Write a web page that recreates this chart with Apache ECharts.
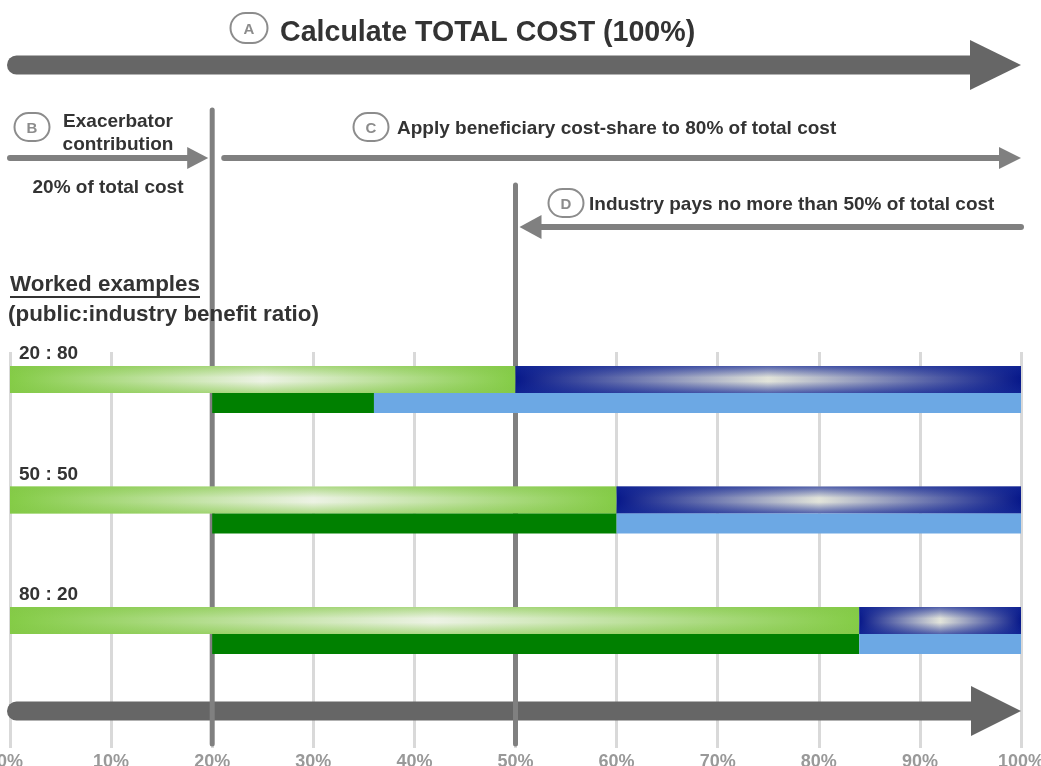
<!DOCTYPE html>
<html><head><meta charset="utf-8">
<script src="https://cdn.jsdelivr.net/npm/echarts@6/dist/echarts.min.js"></script>
<style>html,body{margin:0;padding:0;background:#fff}#c{width:1041px;height:766px}</style>
</head><body><div id="c"></div>
<script>
// ---- data ----
const ratioLabels = ['20 : 80', '50 : 50', '80 : 20'];          // public : industry benefit ratio
const exacerbatorShare = 20;                                   // % of total cost (B)
const industryCap = 50;                                        // industry pays no more than (D)
const publicTotalEnd = [50, 60, 84];                           // top bar: public share ends / industry starts
const publicBeneficiaryEnd = [36, 60, 84];                     // bottom bar: public beneficiary share ends
const axisMin = 0, axisMax = 100, axisStep = 10;

const FONT = "'Liberation Sans', Arial, sans-serif";
const TXT = '#333333';
const ARROW = '#808080';

// kinds: 0 top public, 1 top industry, 2 bottom public, 3 bottom industry
const barData = [];
ratioLabels.forEach((lab, i) => {
  barData.push([axisMin, publicTotalEnd[i], i, 0]);
  barData.push([publicTotalEnd[i], axisMax, i, 1]);
  barData.push([exacerbatorShare, publicBeneficiaryEnd[i], i, 2]);
  barData.push([publicBeneficiaryEnd[i], axisMax, i, 3]);
});

function hGrad(edge, light) {
  return new echarts.graphic.LinearGradient(0, 0, 1, 0, [
    {offset: 0, color: edge}, {offset: 0.5, color: light}, {offset: 1, color: edge}]);
}
function vGrad(rgb, a) {
  return new echarts.graphic.LinearGradient(0, 0, 0, 1, [
    {offset: 0, color: 'rgba(' + rgb + ',' + a + ')'},
    {offset: 0.42, color: 'rgba(' + rgb + ',0)'},
    {offset: 0.58, color: 'rgba(' + rgb + ',0)'},
    {offset: 1, color: 'rgba(' + rgb + ',' + a + ')'}]);
}

function renderBar(params, api) {
  const s = api.value(0), e = api.value(1), row = api.value(2), kind = api.value(3);
  const a = api.coord([s, row]), b = api.coord([e, row]);
  const band = api.size([0, 1])[1];
  const top = a[1] - band / 2;
  const w = b[0] - a[0];
  const children = [];
  if (kind === 0 || kind === 1) {
    const y = top + 14, h = 27;
    const green = kind === 0;
    children.push({type: 'rect', shape: {x: a[0], y: y, width: w, height: h},
      style: {fill: green ? hGrad('#84cc46', '#ecf2e4') : hGrad('#07188a', '#e2e4da')}});
    children.push({type: 'rect', shape: {x: a[0], y: y, width: w, height: h},
      style: {fill: green ? vGrad('132,200,72', 0.6) : vGrad('20,40,150', 0.7)}});
    if (kind === 0) {
      children.push({type: 'text', x: a[0] + 9, y: top + 2,
        style: {text: ratioLabels[row], font: 'bold 19px ' + FONT, fill: TXT,
          textAlign: 'left', textVerticalAlign: 'middle'}});
    }
  } else {
    const y = top + 41, h = 20;
    children.push({type: 'rect', shape: {x: a[0], y: y, width: w, height: h},
      style: {fill: kind === 2 ? '#008000' : '#6ca8e4'}});
  }
  return {type: 'group', children: children};
}

function arrow(x0, x1, y, th, headLen, hh, color) {
  const dir = x1 > x0 ? 1 : -1;
  const base = x1 - dir * headLen;
  const r = th / 2;
  let left, w, rr;
  if (dir > 0) { left = x0; w = base - x0 + 1; rr = [r, 0, 0, r]; }
  else { left = base - 1; w = x0 - base + 1; rr = [0, r, r, 0]; }
  return [
    {type: 'rect', shape: {x: left, y: y - th / 2, width: w, height: th, r: rr}, style: {fill: color}},
    {type: 'polygon', shape: {points: [[base, y - hh], [x1, y], [base, y + hh]]}, style: {fill: color}}
  ];
}

function renderArrows(params, api) {
  const X = v => api.coord([v, 0])[0];
  let ch = [];
  ch = ch.concat(arrow(X(axisMin) - 3, X(axisMax), 65, 19, 51, 25, '#666666'));        // A
  ch = ch.concat(arrow(X(axisMin) - 3, X(exacerbatorShare) - 4, 158, 6, 21, 11, ARROW)); // B
  ch = ch.concat(arrow(X(exacerbatorShare) + 9, X(axisMax), 158, 6, 22, 11, ARROW));    // C
  ch = ch.concat(arrow(X(axisMax) + 3, X(industryCap) + 4, 227, 6, 22, 12, ARROW));    // D
  ch = ch.concat(arrow(X(axisMin) - 3, X(axisMax), 711, 19, 50, 25, '#666666'));       // bottom
  return {type: 'group', children: ch};
}

function renderVLines(params, api) {
  const X = v => api.coord([v, 0])[0];
  return {type: 'group', children: [
    {type: 'line', shape: {x1: X(exacerbatorShare), y1: 110, x2: X(exacerbatorShare), y2: 744},
      style: {stroke: ARROW, lineWidth: 5, lineCap: 'round'}},
    {type: 'line', shape: {x1: X(industryCap), y1: 185, x2: X(industryCap), y2: 744},
      style: {stroke: ARROW, lineWidth: 5, lineCap: 'round'}}
  ]};
}

function oval(cx, cy, letter, w, h) {
  return [
    {type: 'rect', shape: {x: cx - w / 2, y: cy - h / 2, width: w, height: h, r: h / 2},
      style: {fill: '#ffffff', stroke: '#8c8c8c', lineWidth: 2}, z: 10},
    {type: 'text', x: cx, y: cy + 2, style: {text: letter, font: 'bold 15px ' + FONT, fill: '#8c8c8c',
      textAlign: 'center', textVerticalAlign: 'middle'}, z: 11}
  ];
}
function label(text, x, y, size, align) {
  return {type: 'text', x: x, y: y, z: 11, style: {text: text, font: 'bold ' + size + 'px ' + FONT, fill: TXT,
    textAlign: align || 'left', textVerticalAlign: 'middle'}};
}

const graphics = [].concat(
  oval(249, 28, 'A', 37, 30),
  [label('Calculate TOTAL COST (100%)', 280, 33, 28.6)],
  oval(32, 127, 'B', 35, 28),
  [label('Exacerbator', 118, 122, 19, 'center'), label('contribution', 118, 145, 19, 'center'),
   label('20% of total cost', 108, 188, 19, 'center')],
  oval(371, 127, 'C', 35, 28),
  [label('Apply beneficiary cost-share to 80% of total cost', 397, 129, 19)],
  oval(566, 203, 'D', 35, 28),
  [label('Industry pays no more than 50% of total cost', 589, 205, 19)],
  [label('Worked examples', 10, 285, 22.4),
   {type: 'line', z: 11, shape: {x1: 10, y1: 297, x2: 200, y2: 297}, style: {stroke: TXT, lineWidth: 2}},
   label('(public:industry benefit ratio)', 8, 315, 22.4)]
);

const chart = echarts.init(document.getElementById('c'), null, {renderer: 'canvas'});
chart.setOption({
  animation: false,
  backgroundColor: '#ffffff',
  grid: [
    {left: 10, right: 20, top: 352, bottom: 18, containLabel: false, outerBoundsMode: 'none'},
    {left: 10, right: 20, top: 352, height: 361.5, containLabel: false, outerBoundsMode: 'none'}
  ],
  xAxis: [
    {gridIndex: 0, type: 'value', min: axisMin, max: axisMax, interval: axisStep,
      axisLine: {show: false}, axisTick: {show: false},
      splitLine: {show: true, lineStyle: {color: '#d9d9d9', width: 3}},
      axisLabel: {formatter: '{value}%', color: '#999999', fontWeight: 'bold', fontSize: 18,
        fontFamily: FONT, margin: 5, showMinLabel: true, showMaxLabel: true, hideOverlap: false}},
    {gridIndex: 1, type: 'value', min: axisMin, max: axisMax, show: false}
  ],
  yAxis: [
    {gridIndex: 0, type: 'value', min: 0, max: 1, show: false},
    {gridIndex: 1, type: 'category', data: ratioLabels, inverse: true, show: false}
  ],
  graphic: graphics,
  series: [
    {type: 'custom', xAxisIndex: 0, yAxisIndex: 0, z: 1, clip: false, silent: true,
      renderItem: renderArrows, data: [[0, 0]]},
    {type: 'custom', xAxisIndex: 0, yAxisIndex: 0, z: 2, clip: false, silent: true,
      renderItem: renderVLines, data: [[0, 0]]},
    {type: 'custom', xAxisIndex: 1, yAxisIndex: 1, z: 3, clip: false,
      renderItem: renderBar, encode: {x: [0, 1], y: 2}, data: barData}
  ]
});
</script></body></html>
